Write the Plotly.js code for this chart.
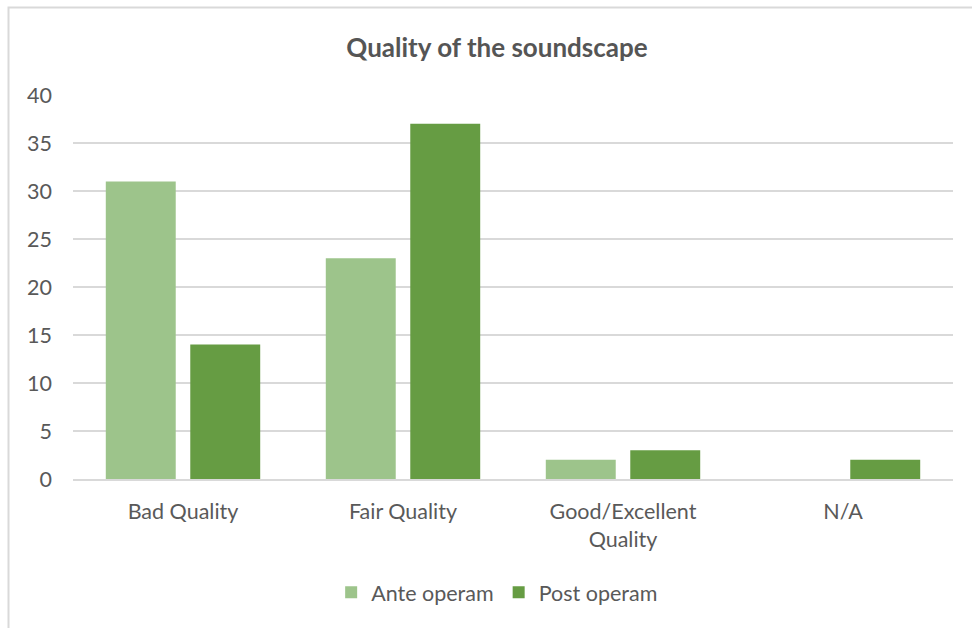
<!DOCTYPE html>
<html>
<head>
<meta charset="utf-8">
<script src="https://cdn.plot.ly/plotly-3.0.1.min.js"></script>
<style>
  html, body { margin: 0; padding: 0; background: #ffffff; }
  #chart { width: 972px; height: 628px; }
</style>
</head>
<body>
<div id="chart"></div>
<script>
// Survey answers on the soundscape, before and after the works
const categories = ['Bad Quality', 'Fair Quality', 'Good/Excellent<br>Quality', 'N/A'];
const anteOperam = [31, 23, 2, 0];
const postOperam = [14, 37, 3, 2];
const seriesNames = ['Ante operam', 'Post operam'];
const yTicks = [0, 5, 10, 15, 20, 25, 30, 35, 40];

const textColor = '#595959';
const gridColor = '#d9d9d9';
const fontFamily = 'Lato, "Open Sans", sans-serif';

const traces = [
  {
    type: 'bar',
    name: seriesNames[0],
    x: categories,
    y: anteOperam,
    marker: { color: '#9dc48b', line: { width: 0 } },
    hoverinfo: 'x+y+name'
  },
  {
    type: 'bar',
    name: seriesNames[1],
    x: categories,
    y: postOperam,
    marker: { color: '#669c43', line: { width: 0 } },
    hoverinfo: 'x+y+name'
  }
];

const layout = {
  width: 972,
  height: 628,
  margin: { l: 73, r: 19, t: 95, b: 149 },
  paper_bgcolor: '#ffffff',
  plot_bgcolor: '#ffffff',
  font: { family: fontFamily, color: textColor, size: 21 },
  title: {
    text: '<b>Quality of the soundscape</b>',
    font: { family: fontFamily, size: 26, color: '#555555' },
    x: 497 / 972,
    xref: 'container',
    xanchor: 'center',
    y: 47,
    yref: 'container',
    yanchor: 'middle'
  },
  barmode: 'group',
  bargap: 0.232,
  bargroupgap: 0.172,
  xaxis: {
    type: 'category',
    showgrid: false,
    zeroline: false,
    showline: true,
    linecolor: gridColor,
    linewidth: 2,
    ticks: '',
    ticklabelstandoff: 12,
    tickfont: { family: fontFamily, size: 21.5, color: textColor }
  },
  yaxis: {
    range: [0, 40],
    tickvals: yTicks,
    ticktext: yTicks.map(String),
    showgrid: true,
    gridcolor: gridColor,
    gridwidth: 1.5,
    zeroline: false,
    showline: false,
    ticks: '',
    ticklabelstandoff: 20,
    tickfont: { family: fontFamily, size: 21.5, color: textColor }
  },
  legend: {
    orientation: 'h',
    x: 0.482,
    xanchor: 'center',
    y: -0.295,
    yanchor: 'middle',
    itemwidth: 30,
    font: { family: fontFamily, size: 21.5, color: textColor },
    itemclick: false,
    bgcolor: 'rgba(0,0,0,0)'
  },
  shapes: [
    {
      // outer frame of the chart area
      type: 'rect',
      xref: 'paper', yref: 'paper',
      x0: (8.5 - 73) / 880, x1: 1.2,
      y0: -0.6, y1: (479 - 7.5) / 384,
      line: { color: gridColor, width: 2 },
      fillcolor: 'rgba(0,0,0,0)',
      layer: 'below'
    }
  ],
  showlegend: true
};

Plotly.newPlot('chart', traces, layout, { displayModeBar: false, staticPlot: true });
</script>
</body>
</html>
